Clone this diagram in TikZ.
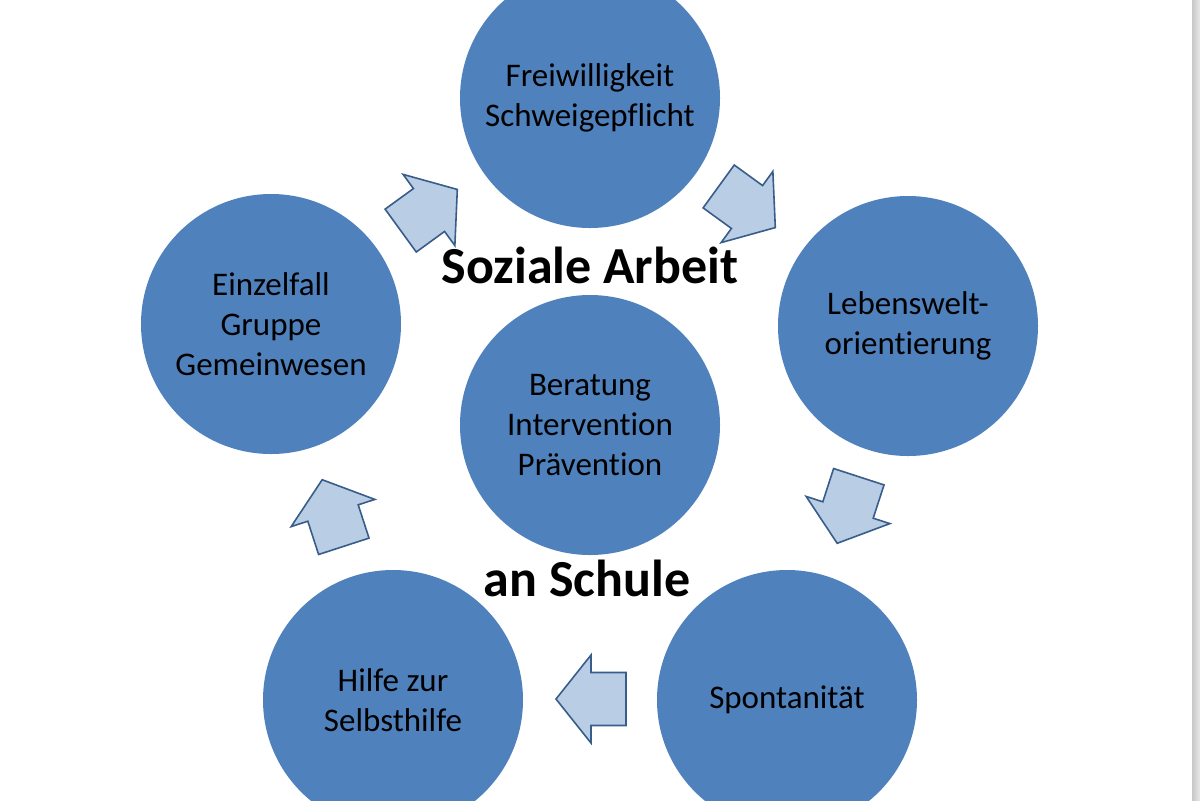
\documentclass[tikz,border=0pt]{standalone}
\usepackage{fontspec}
\setmainfont{Carlito}[Ligatures={NoCommon,NoRare,NoDiscretionary}]
\definecolor{circblue}{HTML}{4F81BD}
\definecolor{arrfill}{HTML}{B9CDE5}
\definecolor{arrline}{HTML}{385D8A}
\tikzset{
  topic/.style={circle,fill=circblue,minimum size=130pt,inner sep=0pt,
                align=center,font=\fontsize{16.5}{20}\selectfont},
  headline/.style={anchor=base,inner sep=0pt,
                   font=\fontsize{26}{30}\selectfont\bfseries},
  blockarrow/.pic={
    \draw[fill=arrfill,draw=arrline,line width=0.8pt,line join=miter]
      (-35,-26.5) -- (0,-26.5) -- (0,-44) -- (35,0) -- (0,44)
      -- (0,26.5) -- (-35,26.5) -- cycle;
  },
}

\begin{document}
\begin{tikzpicture}[x=0.5pt,y=-0.5pt]
  \useasboundingbox (0,0) rectangle (1200,800);
  \clip (0,0) rectangle (1200,800);
  \fill[white] (0,0) rectangle (1200,800);

  % the five topics round the centre
  \node[topic] (frei) at (590,98) {Freiwilligkeit\\Schweigepflicht};
  \node[topic] (leben) at (908,326) {Lebenswelt-\\orientierung};
  \node[topic] (spont) at (787,700) {Spontanit\"at};
  \node[topic] (hilfe) at (393,700) {Hilfe zur\\Selbsthilfe};
  \node[topic] (einzel) at (271,324) {Einzelfall\\Gruppe\\Gemeinwesen};
  \node[topic] (ber) at (590,425) {Beratung\\Intervention\\Pr\"avention};

  % block arrows, clockwise
  \pic[rotate=36] at (429,210) {blockarrow};
  \pic[rotate=-36] at (747,207) {blockarrow};
  \pic[rotate=-108] at (848,510) {blockarrow};
  \pic[rotate=180] at (591,699) {blockarrow};
  \pic[rotate=108] at (333,513) {blockarrow};

  \node[headline] (soz) at (590,283) {Soziale Arbeit};
  \node[headline] (schule) at (587,596) {an Schule};

  % page edge
  \shade[left color=black!22,right color=black!9] (1192,0) rectangle (1200,800);
\end{tikzpicture}
\end{document}
